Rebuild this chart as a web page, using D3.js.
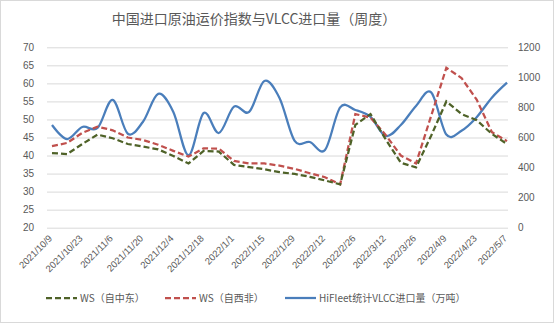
<!DOCTYPE html>
<html><head><meta charset="utf-8">
<script src="https://cdn.jsdelivr.net/npm/d3@7"></script>
<style>
html,body{margin:0;padding:0;background:#fff;}
svg{display:block;font-family:"Noto Sans CJK SC","Noto Sans",sans-serif;}
</style></head>
<body><svg id="chart" width="554" height="323"></svg>
<script>
const dates = ["2021/10/9","2021/10/16","2021/10/23","2021/10/30","2021/11/6","2021/11/13","2021/11/20","2021/11/27","2021/12/4","2021/12/11","2021/12/18","2021/12/25","2022/1/1","2022/1/8","2022/1/15","2022/1/22","2022/1/29","2022/2/5","2022/2/12","2022/2/19","2022/2/26","2022/3/5","2022/3/12","2022/3/19","2022/3/26","2022/4/2","2022/4/9","2022/4/16","2022/4/23","2022/4/30","2022/5/7"];
const xTickLabels = ["2021/10/9","2021/10/23","2021/11/6","2021/11/20","2021/12/4","2021/12/18","2022/1/1","2022/1/15","2022/1/29","2022/2/12","2022/2/26","2022/3/12","2022/3/26","2022/4/9","2022/4/23","2022/5/7"];
const wsMiddleEast = [40.7,40.4,43.2,45.8,44.8,43.2,42.5,41.7,39.9,37.8,41.3,41.1,37.4,36.8,36.2,35.4,34.9,34.1,33.1,32.0,48.5,51.5,44.5,38.0,36.7,45.5,55.0,51.5,49.8,46.0,43.2];
const wsWestAfrica = [42.6,43.5,46.3,48.0,47.0,45.0,44.3,43.0,41.3,39.7,42.0,41.9,38.5,37.8,37.8,37.2,36.3,35.1,34.0,32.0,51.5,50.5,45.7,40.0,37.8,51.0,64.3,61.5,55.5,46.5,44.0];
const vlccVolume = [683,590,670,663,850,625,705,890,770,482,763,630,805,770,976,863,577,570,517,800,783,737,610,683,810,900,620,645,735,865,965];
const leftTicks = [20,25,30,35,40,45,50,55,60,65,70];
const rightTicks = [0,200,400,600,800,1000,1200];
const seriesNames = ["WS（自中东）","WS（自西非）","HiFleet统计VLCC进口量（万吨）"];
const colors = ["#4F6228","#C0504D","#4A7EBB"];
const title = "中国进口原油运价指数与VLCC进口量（周度）";

const svg = d3.select("#chart");
const W = 554, H = 323;
svg.append("rect").attr("x",0.5).attr("y",0.5).attr("width",W-1).attr("height",H-1)
  .attr("fill","#fff").attr("stroke","#d9d9d9");

const plotL = 47, plotR = 508, plotT = 47.3, plotB = 227.7;
const x = d3.scalePoint().domain(dates).range([52, 507]);
const yL = d3.scaleLinear().domain([20,70]).range([plotB, plotT]);
const yR = d3.scaleLinear().domain([0,1200]).range([plotB, plotT]);

// gridlines
const grid = svg.append("g").attr("transform",`translate(${plotL},0)`)
  .call(d3.axisLeft(yL).tickValues(leftTicks).tickSize(-(plotR-plotL)).tickFormat(""));
grid.select(".domain").remove();
grid.selectAll("line").attr("stroke","#d9d9d9").attr("stroke-width",1);

// left axis labels
const la = svg.append("g").attr("transform",`translate(${plotL},0)`)
  .call(d3.axisLeft(yL).tickValues(leftTicks).tickSize(0).tickPadding(13).tickFormat(d3.format("d")));
la.select(".domain").remove();
la.selectAll("text").attr("fill","#595959").style("font-size","10px").style("font-family","Liberation Sans, Arial, sans-serif");

// right axis labels
const ra = svg.append("g").attr("transform",`translate(${plotR},0)`)
  .call(d3.axisRight(yR).tickValues(rightTicks).tickSize(0).tickPadding(10).tickFormat(d3.format("d")));
ra.select(".domain").remove();
ra.selectAll("text").attr("fill","#595959").style("font-size","10px").style("font-family","Liberation Sans, Arial, sans-serif");

// x axis labels
const xa = svg.append("g").attr("transform",`translate(0,${plotB})`)
  .call(d3.axisBottom(x).tickValues(xTickLabels).tickSize(0));
xa.select(".domain").remove();
xa.selectAll("text").attr("fill","#595959").style("font-size","9.5px")
  .style("font-family","Liberation Sans, Arial, sans-serif")
  .attr("text-anchor","end").attr("x",0).attr("y",0).attr("dy","0.35em")
  .attr("transform","translate(-2,9) rotate(-45)");

// lines
const lineL = d3.line().x((d,i)=>x(dates[i])).y(d=>yL(d));
const lineR = d3.line().x((d,i)=>x(dates[i])).y(d=>yR(d)).curve(d3.curveCardinal.tension(0));

svg.append("path").datum(vlccVolume).attr("d",lineR).attr("fill","none")
  .attr("stroke",colors[2]).attr("stroke-width",2.25).attr("stroke-linejoin","round");
svg.append("path").datum(wsWestAfrica).attr("d",lineL).attr("fill","none")
  .attr("stroke",colors[1]).attr("stroke-width",2.25).attr("stroke-dasharray","6,3");
svg.append("path").datum(wsMiddleEast).attr("d",lineL).attr("fill","none")
  .attr("stroke",colors[0]).attr("stroke-width",2.25).attr("stroke-dasharray","6,3");

// title
svg.append("text").attr("x",254).attr("y",24).attr("text-anchor","middle")
  .attr("fill","#595959").style("font-size","14px").text(title);

// legend
const legendItems = [
  {name: seriesNames[0], color: colors[0], dash: "6,3", x0: 46},
  {name: seriesNames[1], color: colors[1], dash: "6,3", x0: 165},
  {name: seriesNames[2], color: colors[2], dash: null, x0: 285}
];
const lg = svg.append("g");
legendItems.forEach(it=>{
  const g = lg.append("g").attr("transform",`translate(${it.x0},298)`);
  g.append("line").attr("x1",0).attr("x2",31).attr("y1",0).attr("y2",0)
    .attr("stroke",it.color).attr("stroke-width",2.25)
    .attr("stroke-dasharray",it.dash);
  g.append("text").attr("x",34).attr("y",0).attr("dy","0.35em")
    .attr("fill","#595959").style("font-size","10px").text(it.name);
});
</script></body></html>
